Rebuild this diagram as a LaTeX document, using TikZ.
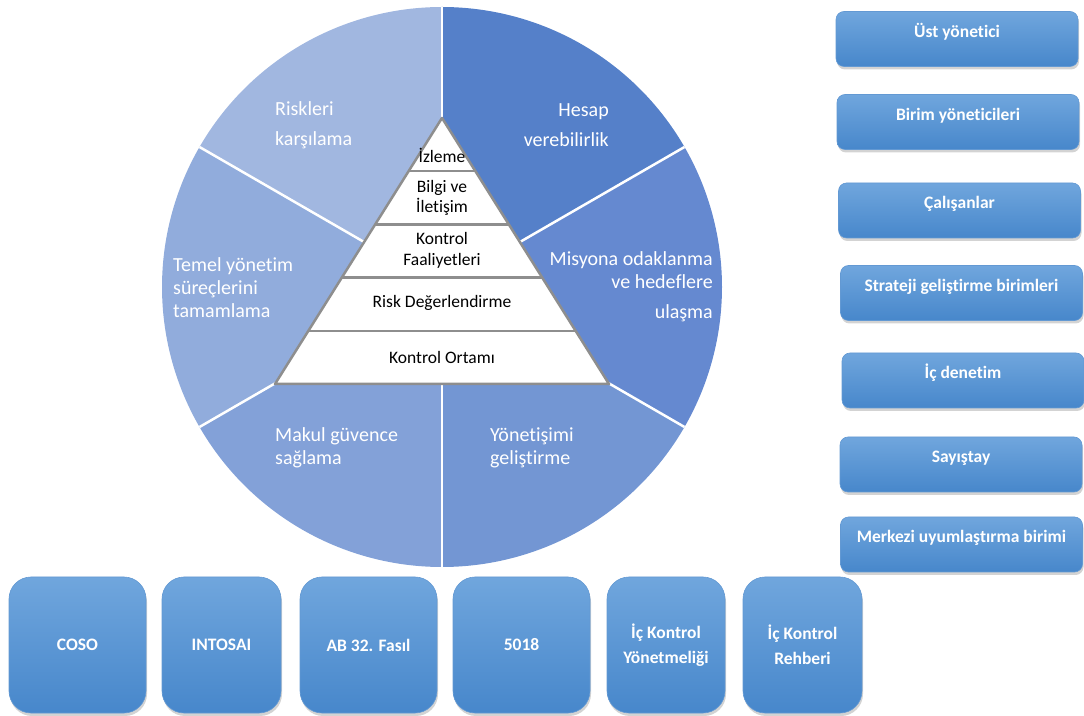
\documentclass[tikz,border=0pt]{standalone}
\usepackage{fontspec}
\setmainfont{Carlito}[Ligatures=NoCommon]
\usetikzlibrary{calc,shadows}

\definecolor{dilimA}{HTML}{A1B7E0}
\definecolor{dilimB}{HTML}{5580C9}
\definecolor{dilimC}{HTML}{6589D0}
\definecolor{dilimD}{HTML}{7396D3}
\definecolor{dilimE}{HTML}{83A1D8}
\definecolor{dilimF}{HTML}{91ACDC}
\definecolor{kutuUst}{HTML}{70A6DD}
\definecolor{kutuAlt}{HTML}{4787CB}
\definecolor{piramit}{HTML}{8E8E8E}

\tikzset{
    kutu/.style={top color=kutuUst, bottom color=kutuAlt, draw=kutuAlt!85!white,
        line width=0.6, inner sep=0, text=white,
        drop shadow={opacity=0.35, shadow xshift=1pt, shadow yshift=-3pt},
        font=\fontsize{17.5}{25}\selectfont\bfseries},
    sagkutu/.style={kutu, rounded corners=8, minimum width=242,
        text height=26, text depth=29},
    altkutu/.style={kutu, rounded corners=22, minimum height=136, align=center},
    dilimyazi/.style={text=white, inner sep=0, font=\fontsize{20}{23}\selectfont},
    katyazi/.style={inner sep=0, align=center, font=\fontsize{17.5}{20.5}\selectfont}
}

\begin{document}
\begin{tikzpicture}[x=1pt,y=1pt]
\useasboundingbox (0,0) rectangle (1084,715);

% daire
\coordinate (merkez) at (442,428);
\foreach \a/\renk in {90/dilimA, 30/dilimB, -30/dilimC, -90/dilimD, -150/dilimE, 150/dilimF}
    \fill[\renk] (merkez) -- ++(\a:280) arc[start angle=\a, delta angle=60, radius=280] -- cycle;
\foreach \a in {30,90,...,330}
    \draw[white, line width=2.5] (merkez) -- ++(\a:280);

\node[dilimyazi, anchor=west, align=left] (risk) at (275,590) {Riskleri\\[7pt]karşılama};
\node[dilimyazi, anchor=east, align=right] (hesap) at (609,590) {Hesap\\[7pt]verebilirlik};
\node[dilimyazi, anchor=east, align=right] (misyon) at (713,428.5) {Misyona odaklanma\\ve hedeflere\\[7pt]ulaşma};
\node[dilimyazi, anchor=west, align=left] (yonetisim) at (490,267) {Yönetişimi\\geliştirme};
\node[dilimyazi, anchor=west, align=left] (makul) at (275,267) {Makul güvence\\sağlama};
\node[dilimyazi, anchor=west, align=left] (temel) at (173,427.5) {Temel yönetim\\süreçlerini\\tamamlama};

% piramit
\coordinate (tepe) at (442,597);
\coordinate (solalt) at (275,331);
\coordinate (sagalt) at (609,331);
\draw[fill=white, draw=piramit, line width=2.5, line join=round] (tepe) -- (solalt) -- (sagalt) -- cycle;
\foreach \t in {0.2,0.4,0.6,0.8}
    \draw[piramit, line width=2.5] ($(tepe)!\t!(solalt)$) -- ($(tepe)!\t!(sagalt)$);

\node[katyazi] (izleme) at (442,560) {İzleme};
\node[katyazi] (bilgi) at (442,517) {Bilgi ve\\İletişim};
\node[katyazi] (faaliyet) at (442,464.5) {Kontrol\\Faaliyetleri};
\node[katyazi] (degerlendirme) at (442,412) {Risk Değerlendirme};
\node[katyazi] (ortam) at (442,358) {Kontrol Ortamı};

% sag kutular
\node[sagkutu] (ust) at (957,676) {Üst yönetici};
\node[sagkutu] (birim) at (958,593) {Birim yöneticileri};
\node[sagkutu] (calisan) at (959.5,504.5) {Çalışanlar};
\node[sagkutu] (strateji) at (961.5,422) {Strateji geliştirme birimleri};
\node[sagkutu] (denetim) at (963,334.5) {İç denetim};
\node[sagkutu] (sayistay) at (961,250.5) {Sayıştay};
\node[sagkutu] (merkezi) at (961.5,170.5) {Merkezi uyumlaştırma birimi};

% alt kutular
\node[altkutu, minimum width=137] (coso) at (77.5,70) {COSO};
\node[altkutu, minimum width=119] (intosai) at (221.5,70) {INTOSAI};
\node[altkutu, minimum width=137] (fasil) at (368.5,70) {AB 32. Fasıl};
\node[altkutu, minimum width=137] (kanun) at (521.5,70) {5018};
\node[altkutu, minimum width=118] (yonetmelik) at (666,70) {İç Kontrol\\Yönetmeliği};
\node[altkutu, minimum width=119] (rehber) at (802.5,70) {İç Kontrol\\Rehberi};
\end{tikzpicture}
\end{document}
